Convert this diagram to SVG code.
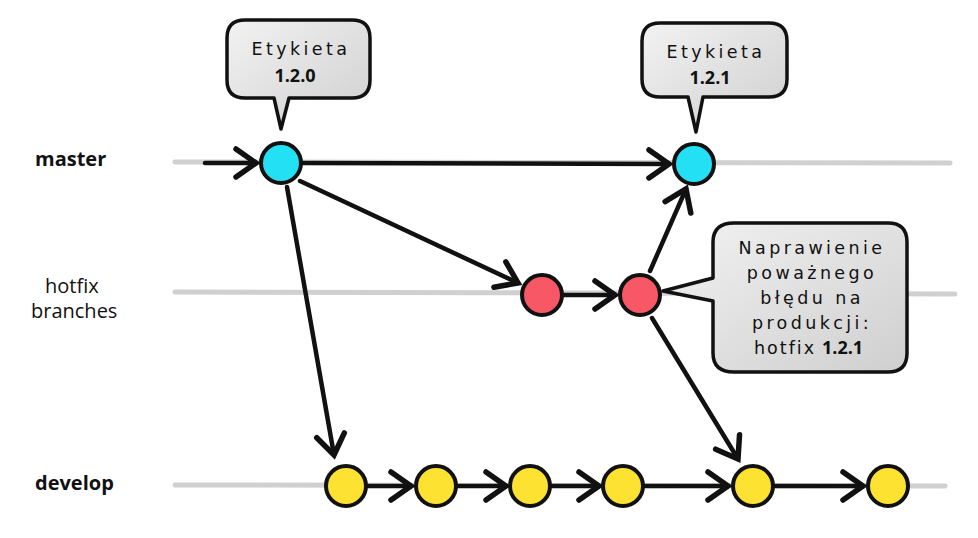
<svg xmlns="http://www.w3.org/2000/svg" width="978" height="538" viewBox="0 0 978 538">
<defs>
<style>
.lane{stroke:#c8c8c8;stroke-width:5;stroke-linecap:round;opacity:0.85;fill:none}
.conn{stroke:#111;stroke-width:4.5;stroke-linecap:round;fill:none;marker-end:url(#arr)}
.node{stroke:#111;stroke-width:4}
.cyan{fill:#24e0f5}
.red{fill:#f85865}
.yellow{fill:#fde232}
.bubble{fill:url(#bg);stroke:#111;stroke-width:3.5;stroke-linejoin:round}
.lbl{font-family:"Open Sans","Liberation Sans",sans-serif;font-size:20px;fill:#111}
.bt{font-family:"DejaVu Sans","Liberation Sans",sans-serif;font-size:17.5px;letter-spacing:3.4px;fill:#111;text-anchor:middle}
.bn{font-family:"Open Sans","Liberation Sans",sans-serif;font-size:18px;font-weight:bold;fill:#111}
</style>
<linearGradient id="bg" x1="0" y1="0" x2="1" y2="1">
<stop offset="0" stop-color="#f2f2f2"/>
<stop offset="1" stop-color="#cfcfcf"/>
</linearGradient>
<marker id="arr" markerUnits="userSpaceOnUse" markerWidth="50" markerHeight="50" viewBox="-25 -25 50 50" refX="0" refY="0" orient="auto">
<path d="M-20,-14 L0,0 L-20,14" fill="none" stroke="#111" stroke-width="5.5" stroke-linejoin="miter" stroke-linecap="round"/>
</marker>
</defs>
<rect width="978" height="538" fill="#fff"/>

<g id="lanes">
<line class="lane" x1="175" y1="162" x2="950" y2="163"/>
<line class="lane" x1="175" y1="292" x2="955" y2="294"/>
<line class="lane" x1="175" y1="485" x2="945" y2="486"/>
</g>

<g id="labels">
<text class="lbl" x="35" y="166" font-weight="bold">master</text>
<text class="lbl" x="45" y="293">hotfix</text>
<text class="lbl" x="31" y="318">branches</text>
<text class="lbl" x="35" y="490" font-weight="bold">develop</text>
</g>

<g id="connectors">
<line class="conn" x1="205" y1="163" x2="256" y2="163"/>
<line class="conn" x1="303" y1="163" x2="669" y2="164"/>
<line class="conn" x1="300" y1="181" x2="518" y2="283"/>
<line class="conn" x1="287" y1="187" x2="334" y2="455"/>
<line class="conn" x1="564" y1="295" x2="615" y2="295"/>
<line class="conn" x1="650" y1="271" x2="686" y2="189"/>
<line class="conn" x1="652" y1="318" x2="738" y2="459"/>
<line class="conn" x1="368" y1="486" x2="411" y2="486"/>
<line class="conn" x1="458" y1="486" x2="506" y2="486"/>
<line class="conn" x1="552" y1="486" x2="599" y2="486"/>
<line class="conn" x1="645" y1="486" x2="728" y2="486"/>
<line class="conn" x1="775" y1="486" x2="863" y2="486"/>
</g>

<g id="master-1"><circle class="node cyan" cx="281" cy="163" r="20"/></g>
<g id="master-2"><circle class="node cyan" cx="694" cy="164" r="20"/></g>
<g id="hotfix-1"><circle class="node red" cx="542" cy="295" r="20"/></g>
<g id="hotfix-2"><circle class="node red" cx="640" cy="295" r="20"/></g>
<g id="develop-1"><circle class="node yellow" cx="346" cy="486" r="20"/></g>
<g id="develop-2"><circle class="node yellow" cx="436" cy="486" r="20"/></g>
<g id="develop-3"><circle class="node yellow" cx="530" cy="486" r="20"/></g>
<g id="develop-4"><circle class="node yellow" cx="623" cy="486" r="20"/></g>
<g id="develop-5"><circle class="node yellow" cx="753" cy="486" r="20"/></g>
<g id="develop-6"><circle class="node yellow" cx="888" cy="486" r="20"/></g>

<g id="tag-120">
<path class="bubble" d="M245,20 H352 Q370,20 370,38 V80 Q370,98 352,98 H289 L281,129 L274,98 H245 Q227,98 227,80 V38 Q227,20 245,20 Z"/>
<text class="bt" x="301" y="55">Etykieta</text>
<text class="bn" x="295" y="82" text-anchor="middle">1.2.0</text>
</g>

<g id="tag-121">
<path class="bubble" d="M660,23 H769 Q787,23 787,41 V79 Q787,97 769,97 H703 L696,132 L688,97 H660 Q642,97 642,79 V41 Q642,23 660,23 Z"/>
<text class="bt" x="716" y="58">Etykieta</text>
<text class="bn" x="710" y="84" text-anchor="middle">1.2.1</text>
</g>

<g id="note-hotfix">
<path class="bubble" d="M734,223 H888 Q907,223 907,242 V353 Q907,372 888,372 H734 Q713,372 713,353 V301 L663,291 L713,278 V242 Q713,223 734,223 Z"/>
<text class="bt" x="812" y="254">Naprawienie</text>
<text class="bt" x="812" y="279">poważnego</text>
<text class="bt" x="812" y="304">błędu na</text>
<text class="bt" x="812" y="329">produkcji:</text>
<text class="bt" x="754" y="354" style="text-anchor:start;letter-spacing:2px">hotfix</text>
<text class="bn" x="822" y="354">1.2.1</text>
</g>
</svg>
